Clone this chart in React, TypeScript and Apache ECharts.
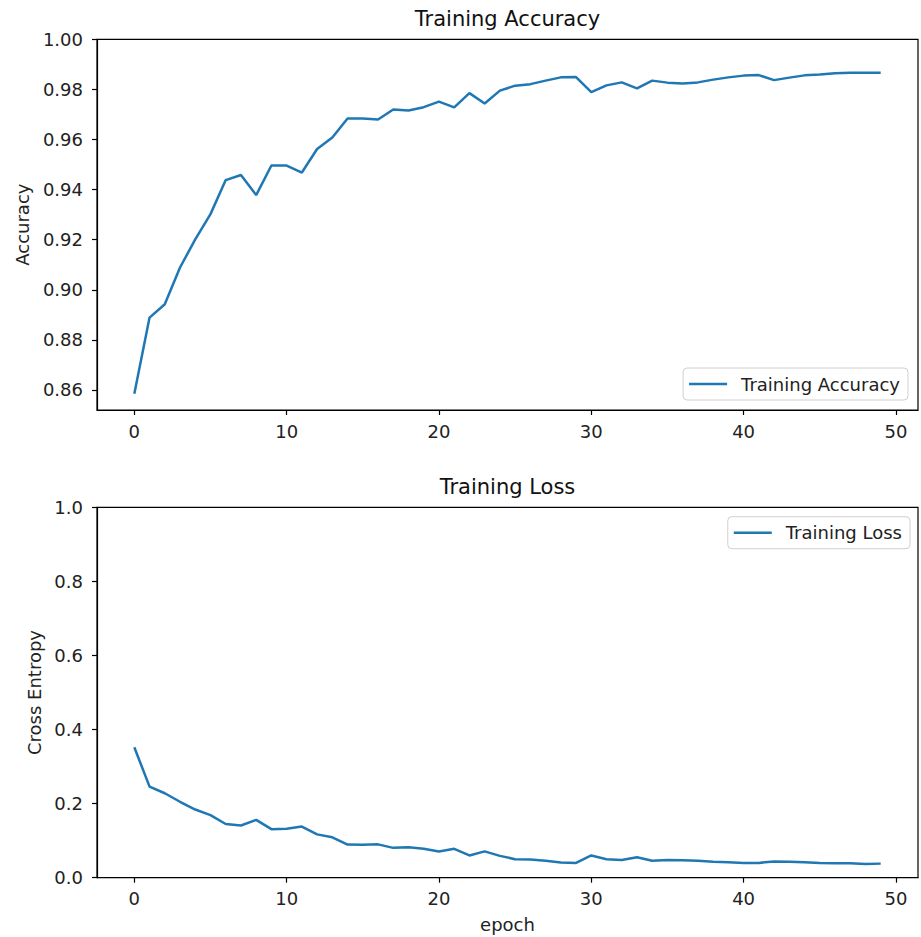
import React, { useEffect, useRef } from "react";
import * as echarts from "echarts";

const epochs: number[] = Array.from({ length: 50 }, (_, i) => i);

const accuracy: number[] = [
  0.8585, 0.8889, 0.8942, 0.9089, 0.9201, 0.9302, 0.9438, 0.9458, 0.9378, 0.9496,
  0.9496, 0.9468, 0.9562, 0.9608, 0.9684, 0.9684, 0.968, 0.972, 0.9716, 0.9729,
  0.9751, 0.9728, 0.9785, 0.9744, 0.9795, 0.9815, 0.9821, 0.9835, 0.9848, 0.9849,
  0.9789, 0.9816, 0.9828, 0.9804, 0.9835, 0.9827, 0.9824, 0.9828, 0.9839, 0.9848,
  0.9855, 0.9857, 0.9837, 0.9847, 0.9856, 0.9859, 0.9864, 0.9866, 0.9866, 0.9866,
];

const loss: number[] = [
  0.352, 0.246, 0.228, 0.205, 0.184, 0.169, 0.145, 0.141, 0.156, 0.131,
  0.132, 0.138, 0.117, 0.109, 0.0895, 0.089, 0.09, 0.0806, 0.082, 0.078,
  0.0707, 0.078, 0.06, 0.071, 0.059, 0.05, 0.049, 0.046, 0.041, 0.04,
  0.06, 0.05, 0.048, 0.055, 0.046, 0.048, 0.047, 0.046, 0.043, 0.042,
  0.04, 0.04, 0.044, 0.043, 0.042, 0.04, 0.039, 0.039, 0.037, 0.038,
];

const xTicks: number[] = [0, 10, 20, 30, 40, 50];
const accTicks: number[] = [0.86, 0.88, 0.9, 0.92, 0.94, 0.96, 0.98, 1.0];
const lossTicks: number[] = [0, 0.2, 0.4, 0.6, 0.8, 1.0];

const FONT = "DejaVu Sans";
const BLUE = "#1f77b4";

export default function App() {
  const ref = useRef<HTMLDivElement>(null);

  useEffect(() => {
    document.body.style.margin = "0";
    if (!ref.current) return;
    const chart = echarts.init(ref.current, undefined, { renderer: "svg" });

    const axisLine = { show: true, onZero: false, lineStyle: { color: "#000", width: 1.2 } };
    const axisTick = (vals: number[]) => ({
      show: true,
      length: 5,
      inside: false,
      customValues: vals,
      lineStyle: { color: "#000", width: 1.2 },
    });
    const label = (vals: number[], digits: number | null, margin: number) => ({
      show: true,
      customValues: vals,
      margin,
      fontFamily: FONT,
      fontSize: 18,
      color: "#222",
      formatter: (v: number) => (digits === null ? String(Math.round(v)) : v.toFixed(digits)),
    });

    const xAxisBase = (gridIndex: number, name: string) => ({
      type: "value",
      gridIndex,
      min: -2.45,
      max: 51.45,
      axisLine,
      axisTick: axisTick(xTicks),
      axisLabel: label(xTicks, null, 12),
      splitLine: { show: false },
      name,
      nameLocation: "middle",
      nameGap: 38,
      nameTextStyle: { fontFamily: FONT, fontSize: 18, color: "#222" },
    });

    const legendBase = {
      orient: "vertical",
      icon: "rect",
      itemWidth: 38,
      itemHeight: 2.5,
      padding: [7, 8, 7, 6],
      backgroundColor: "#fff",
      borderColor: "#d0d0d0",
      borderWidth: 1,
      borderRadius: 4,
      textStyle: { fontFamily: FONT, fontSize: 18, color: "#222", padding: [0, 0, 0, 9] },
    };

    const option: any = {
      animation: false,
      backgroundColor: "#fff",
      grid: [
        { left: 97, top: 39.3, width: 821, height: 370.7, show: true, borderColor: "#000", borderWidth: 1.2, containLabel: false },
        { left: 97, top: 507.3, width: 821, height: 370.4, show: true, borderColor: "#000", borderWidth: 1.2, containLabel: false },
      ],
      xAxis: [xAxisBase(0, ""), xAxisBase(1, "epoch")],
      yAxis: [
        {
          type: "value",
          gridIndex: 0,
          min: 0.852,
          max: 1.0,
          axisLine,
          axisTick: axisTick(accTicks),
          axisLabel: label(accTicks, 2, 14),
          splitLine: { show: false },
          name: "Accuracy",
          nameLocation: "middle",
          nameRotate: 90,
          nameGap: 66,
          nameTextStyle: { fontFamily: FONT, fontSize: 18, color: "#222" },
        },
        {
          type: "value",
          gridIndex: 1,
          min: 0,
          max: 1,
          axisLine,
          axisTick: axisTick(lossTicks),
          axisLabel: label(lossTicks, 1, 14),
          splitLine: { show: false },
          name: "Cross Entropy",
          nameLocation: "middle",
          nameRotate: 90,
          nameGap: 53,
          nameTextStyle: { fontFamily: FONT, fontSize: 18, color: "#222" },
        },
      ],
      legend: [
        { ...legendBase, data: ["Training Accuracy"], right: 13, top: 368 },
        { ...legendBase, data: ["Training Loss"], right: 11, top: 516.7 },
      ],
      graphic: [
        { type: "text", x: 507.5, y: 19, style: { text: "Training Accuracy", font: `21px '${FONT}'`, fill: "#111", textAlign: "center", textVerticalAlign: "middle" } },
        { type: "text", x: 507.5, y: 487, style: { text: "Training Loss", font: `21px '${FONT}'`, fill: "#111", textAlign: "center", textVerticalAlign: "middle" } },
      ],
      series: [
        {
          name: "Training Accuracy",
          type: "line",
          xAxisIndex: 0,
          yAxisIndex: 0,
          data: epochs.map((e, i) => [e, accuracy[i]]),
          showSymbol: false,
          symbol: "none",
          lineStyle: { color: BLUE, width: 2.5 },
          itemStyle: { color: BLUE },
        },
        {
          name: "Training Loss",
          type: "line",
          xAxisIndex: 1,
          yAxisIndex: 1,
          data: epochs.map((e, i) => [e, loss[i]]),
          showSymbol: false,
          symbol: "none",
          lineStyle: { color: BLUE, width: 2.5 },
          itemStyle: { color: BLUE },
        },
      ],
    };

    chart.setOption(option);
    return () => chart.dispose();
  }, []);

  return <div ref={ref} style={{ width: 921, height: 937 }} />;
}
